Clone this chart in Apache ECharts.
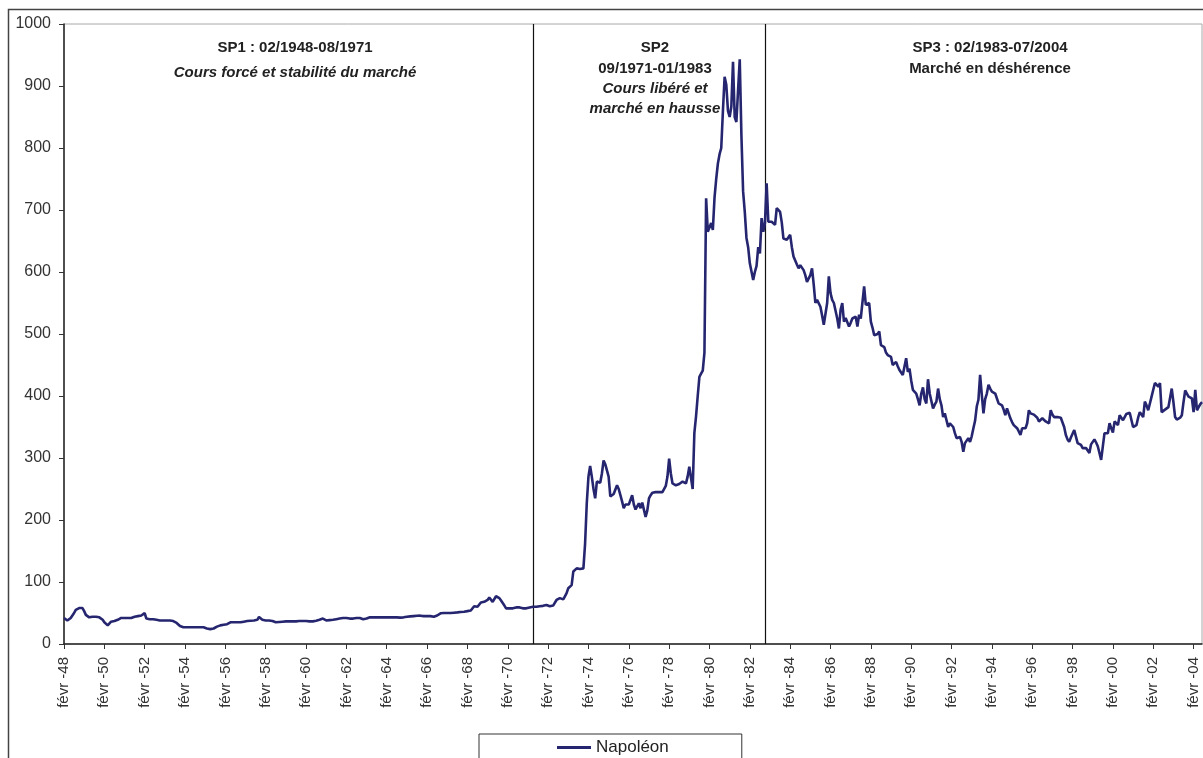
<!DOCTYPE html>
<html>
<head>
<meta charset="utf-8">
<script src="https://cdn.jsdelivr.net/npm/echarts@6/dist/echarts.min.js"></script>
<style>
html,body{margin:0;padding:0;background:#fff;}
#chart{width:1203px;height:758px;}
</style>
</head>
<body>
<div id="chart"></div>
<script>
// Monthly price of the Napoléon, from févr 1948 to juil 2004 (one row = févr..janv)
const napoleon = [
  42, 40, 38, 40, 42, 46, 50, 55, 57, 58, 60, 58,
  53, 47, 44, 43, 43, 44, 45, 44, 44, 43, 41, 39,
  35, 32, 30, 31, 36, 36, 37, 37, 39, 40, 42, 42,
  42, 42, 42, 42, 42, 43, 44, 45, 45, 46, 46, 48,
  50, 41, 41, 40, 40, 40, 39, 39, 39, 38, 39, 38,
  38, 38, 38, 38, 38, 37, 36, 34, 32, 29, 28, 27,
  27, 27, 27, 27, 27, 27, 27, 27, 27, 27, 27, 27,
  26, 25, 24.5, 24, 24, 25, 28, 28, 29, 30, 30, 31,
  31, 32, 33, 35, 36, 35, 34, 35, 35, 35, 36, 36,
  36.5, 37, 37, 37.5, 38, 38, 39, 39, 43.5, 41, 39, 38.5,
  38, 38, 38, 37.5, 37, 36, 35, 35, 35.5, 36, 36, 36,
  36.5, 36.5, 36.5, 36.5, 36.5, 36.5, 36.5, 36.5, 37, 37, 37, 37,
  37, 36.5, 36.5, 36.5, 36.5, 37, 37.5, 37.5, 39, 41, 41, 39,
  38, 38, 38.5, 39, 39, 40, 40, 41, 41, 41.5, 42, 42,
  42, 41.5, 41, 41, 41, 41.5, 42, 42, 42, 41, 40, 40,
  41, 43, 43, 43, 43, 43, 43, 43, 43, 43, 43, 43,
  43, 43, 43, 43, 43, 43, 43, 42.5, 42.5, 43, 43, 44,
  44, 44, 44.5, 45, 45, 45, 45.5, 45.5, 45.7, 45.5, 45, 45,
  45, 45, 45, 44.5, 44, 44, 46, 48, 49.5, 50, 50, 50,
  50, 50, 50, 50.5, 50.5, 51, 51, 51.5, 51.6, 52, 52, 53,
  53, 53.5, 54, 57, 61, 60, 60, 62, 67, 67, 68, 68,
  71, 75, 72, 68, 70, 77, 76, 74, 70, 66, 62, 57.5,
  57.5, 57.5, 57.5, 57.5, 58, 59, 60, 59, 57.5, 57.5, 57.5, 57.5,
  57.5, 59, 60, 60, 60, 60, 60.5, 61, 61, 61.5, 62, 63,
  62, 61, 61, 62, 65, 71, 73.7, 74, 72, 72, 77, 82,
  90, 92, 95, 117, 119, 122, 121.5, 121, 120, 122, 162, 227,
  270, 287, 270, 250, 235, 262, 262, 260, 275, 296, 290, 280,
  270, 238, 240, 242, 245, 256, 250, 240, 230, 219, 225, 227,
  225, 228, 240, 225, 217, 222, 227, 219, 228, 225, 205, 215,
  235, 240, 244, 244, 245, 245, 245, 245, 245, 245, 255, 270,
  299, 275, 259, 258, 256, 256, 258, 258, 262, 260, 259, 270,
  286, 268, 250, 340, 367, 400, 431, 436, 441, 470, 719, 665,
  668, 679, 668, 720, 750, 775, 790, 800, 860, 915, 902, 860,
  850, 867, 939, 850, 842, 893, 943, 820, 730, 697, 655, 640,
  614, 611, 587, 600, 610, 640, 630, 687, 665, 679, 743, 681,
  681, 681, 681, 676, 703, 700, 697, 680, 654, 653, 652, 656,
  660, 640, 625, 627, 612, 606, 611, 608, 603, 595, 584, 586,
  595, 606, 580, 550, 555, 558, 544, 530, 515, 517, 550, 593,
  566, 555, 550, 547, 525, 509, 539, 550, 520, 526, 528, 512,
  518, 525, 527, 528, 512, 531, 525, 523, 577, 547, 550, 550,
  520, 510, 498, 500, 500, 504, 482, 481, 479, 470, 466, 464,
  463, 450, 447, 455, 448, 442, 438, 434, 434, 461, 439, 444,
  425, 410, 407, 404, 395, 385, 404, 414, 395, 388, 427, 404,
  392, 380, 386, 391, 412, 395, 385, 366, 372, 375, 350, 356,
  353, 350, 340, 332, 333, 334, 326, 310, 324, 328, 332, 326,
  335, 348, 360, 383, 394, 434, 402, 372, 395, 404, 418, 412,
  407, 405, 404, 396, 388, 386, 385, 378, 369, 380, 372, 364,
  358, 353, 350, 348, 343, 337, 348, 348, 348, 356, 377, 372,
  369, 370, 371, 365, 359, 362, 364, 361, 359, 357, 356, 377,
  370, 366, 366, 366, 366, 365, 364, 350, 337, 330, 326, 333,
  339, 345, 348, 324, 322, 321, 316, 316, 316, 316, 308, 322,
  326, 330, 325, 319, 308, 297, 295, 340, 340, 340, 356, 348,
  341, 359, 356, 353, 369, 365, 361, 366, 371, 372, 373, 374,
  350, 352, 353, 365, 374, 370, 366, 391, 385, 377, 388, 399,
  410, 421, 418, 415, 421, 374, 376, 378, 380, 382, 383, 412,
  390, 366, 362, 361, 365, 369, 390, 409, 404, 399, 397, 396,
  374, 410, 377, 382, 387, 390
];

const monthNames = ['janv','févr','mars','avr','mai','juin','juil','août','sept','oct','nov','déc'];
const startYear = 1948;
const startMonth = 1; // févr
const labelEvery = 24; // one tick label every two years
const yTicks = [0, 100, 200, 300, 400, 500, 600, 700, 800, 900, 1000];

const categories = napoleon.map(function (v, i) {
  const k = startMonth + i;
  const yr = startYear + Math.floor(k / 12);
  return monthNames[k % 12] + ' -' + String(yr % 100).padStart(2, '0');
});

// sub-period boundaries (as drawn)
const periodLines = ['mai -71', 'nov -82'];

const sp1 = ['SP1 : 02/1948-08/1971', 'Cours forcé et stabilité du marché'];
const sp2 = ['SP2', '09/1971-01/1983', 'Cours libéré et', 'marché en hausse'];
const sp3 = ['SP3 : 02/1983-07/2004', 'Marché en déshérence'];

const FONT = '"Liberation Sans", Arial, sans-serif';
function txt(x, y, t, italic) {
  return {
    type: 'text', x: x, y: y, z: 10, silent: true,
    style: {
      text: t, align: 'center', verticalAlign: 'middle',
      fontFamily: FONT, fontSize: 15, fontWeight: 'bold',
      fontStyle: italic ? 'italic' : 'normal', fill: '#222'
    }
  };
}

const chart = echarts.init(document.getElementById('chart'), null, {renderer: 'canvas'});
chart.setOption({
  animation: false,
  backgroundColor: '#fff',
  textStyle: {fontFamily: FONT},
  grid: {
    left: 64, right: 1, top: 24, bottom: 114,
    show: true, borderColor: '#a8a8a8', borderWidth: 1, backgroundColor: 'transparent'
  },
  legend: {
    left: 479, top: 734,
    padding: [5, 73, 20, 78],
    borderColor: '#333', borderWidth: 1,
    icon: 'rect', itemWidth: 34, itemHeight: 3, itemGap: 4,
    textStyle: {fontSize: 17, color: '#222', fontFamily: FONT},
    data: ['Napoléon']
  },
  xAxis: {
    type: 'category',
    data: categories,
    boundaryGap: false,
    axisLine: {lineStyle: {color: '#222', width: 1.5}},
    axisTick: {
      length: 5, inside: false,
      interval: function (i) { return i % labelEvery === 0; },
      lineStyle: {color: '#333'}
    },
    axisLabel: {
      interval: function (i) { return i % labelEvery === 0; },
      rotate: 90, margin: 13,
      fontSize: 15, color: '#333', fontFamily: FONT
    },
    splitLine: {show: false}
  },
  yAxis: {
    type: 'value',
    min: yTicks[0], max: yTicks[yTicks.length - 1], interval: 100,
    axisLine: {show: true, lineStyle: {color: '#222', width: 1.5}},
    axisTick: {show: true, length: 5, lineStyle: {color: '#333'}},
    axisLabel: {
      fontSize: 16, color: '#333', margin: 13, fontFamily: FONT,
      formatter: function (v) { return String(v); }
    },
    splitLine: {show: false}
  },
  series: [{
    name: 'Napoléon',
    type: 'line',
    data: napoleon,
    showSymbol: false,
    symbol: 'none',
    color: '#262670',
    lineStyle: {color: '#262670', width: 2.6},
    z: 3,
    markLine: {
      silent: true,
      symbol: ['none', 'none'],
      label: {show: false},
      z: 2,
      lineStyle: {color: '#111', width: 1.2, type: 'solid'},
      data: periodLines.map(function (c) { return {xAxis: c}; })
    }
  }],
  graphic: [
    {
      type: 'rect', z: 0, silent: true,
      shape: {x: 8.5, y: 9.5, width: 1400, height: 900},
      style: {fill: 'none', stroke: '#444', lineWidth: 1.5}
    },
    txt(295, 48, sp1[0], false),
    txt(295, 73, sp1[1], true),
    txt(655, 48, sp2[0], false),
    txt(655, 69, sp2[1], false),
    txt(655, 89, sp2[2], true),
    txt(655, 109, sp2[3], true),
    txt(990, 48, sp3[0], false),
    txt(990, 69, sp3[1], false)
  ]
});
</script>
</body>
</html>
